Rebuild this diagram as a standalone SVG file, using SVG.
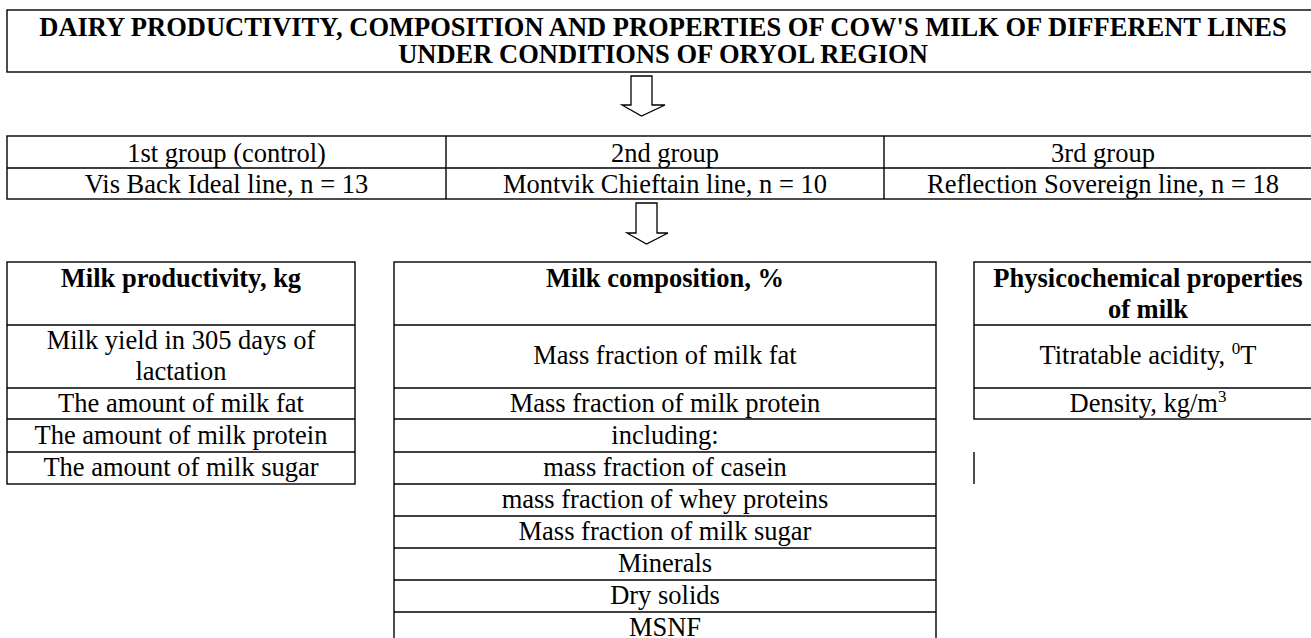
<svg xmlns="http://www.w3.org/2000/svg" width="1311" height="638" viewBox="0 0 1311 638">
<style>
.b{fill:none;stroke:#000;stroke-width:1.4}
.t{font-family:'Liberation Serif','Tinos','Nimbus Roman','DejaVu Serif',serif;font-size:26.5px;fill:#000;text-anchor:middle}
.h{font-weight:bold}
.a{fill:#fff;stroke:#000;stroke-width:1.3;stroke-linejoin:miter}
</style>
<rect width="1311" height="638" fill="#fff"/>
<g id="title">
<rect class="b" x="7" y="10" width="1315" height="62"/>
<text class="t h" x="663" y="36">DAIRY PRODUCTIVITY, COMPOSITION AND PROPERTIES OF COW'S MILK OF DIFFERENT LINES</text>
<text class="t h" x="663" y="63">UNDER CONDITIONS OF ORYOL REGION</text>
</g>
<g id="groups">
<rect class="b" x="7" y="136" width="1315" height="63"/>
<line class="b" x1="7" y1="168" x2="1322" y2="168"/>
<line class="b" x1="446" y1="136" x2="446" y2="199"/>
<line class="b" x1="884" y1="136" x2="884" y2="199"/>
<text class="t" x="226.5" y="162">1st group (control)</text>
<text class="t" x="226.5" y="193">Vis Back Ideal line, n = 13</text>
<text class="t" x="665" y="162">2nd group</text>
<text class="t" x="665" y="193">Montvik Chieftain line, n = 10</text>
<text class="t" x="1103" y="162">3rd group</text>
<text class="t" x="1103" y="193">Reflection Sovereign line, n = 18</text>
</g>
<g id="productivity">
<rect class="b" x="7" y="262" width="348" height="222"/>
<line class="b" x1="7" y1="325" x2="355" y2="325"/>
<line class="b" x1="7" y1="388" x2="355" y2="388"/>
<line class="b" x1="7" y1="419" x2="355" y2="419"/>
<line class="b" x1="7" y1="452" x2="355" y2="452"/>
<text class="t h" x="181" y="287">Milk productivity, kg</text>
<text class="t" x="181" y="349">Milk yield in 305 days of</text>
<text class="t" x="181" y="380">lactation</text>
<text class="t" x="181" y="412">The amount of milk fat</text>
<text class="t" x="181" y="444">The amount of milk protein</text>
<text class="t" x="181" y="476">The amount of milk sugar</text>
</g>
<g id="composition">
<rect class="b" x="394" y="262" width="542" height="390"/>
<line class="b" x1="394" y1="325" x2="936" y2="325"/>
<line class="b" x1="394" y1="388" x2="936" y2="388"/>
<line class="b" x1="394" y1="419" x2="936" y2="419"/>
<line class="b" x1="394" y1="452" x2="936" y2="452"/>
<line class="b" x1="394" y1="484" x2="936" y2="484"/>
<line class="b" x1="394" y1="516" x2="936" y2="516"/>
<line class="b" x1="394" y1="548" x2="936" y2="548"/>
<line class="b" x1="394" y1="580" x2="936" y2="580"/>
<line class="b" x1="394" y1="612" x2="936" y2="612"/>
<text class="t h" x="665" y="287">Milk composition, %</text>
<text class="t" x="665" y="364">Mass fraction of milk fat</text>
<text class="t" x="665" y="412">Mass fraction of milk protein</text>
<text class="t" x="665" y="444">including:</text>
<text class="t" x="665" y="476">mass fraction of casein</text>
<text class="t" x="665" y="508">mass fraction of whey proteins</text>
<text class="t" x="665" y="540">Mass fraction of milk sugar</text>
<text class="t" x="665" y="572">Minerals</text>
<text class="t" x="665" y="604">Dry solids</text>
<text class="t" x="665" y="636">MSNF</text>
</g>
<g id="properties">
<rect class="b" x="974" y="262" width="348" height="157"/>
<line class="b" x1="974" y1="325" x2="1322" y2="325"/>
<line class="b" x1="974" y1="388" x2="1322" y2="388"/>
<line class="b" x1="974" y1="452" x2="974" y2="484"/>
<text class="t h" x="1148" y="287">Physicochemical properties</text>
<text class="t h" x="1148" y="318">of milk</text>
<text class="t" x="1148" y="364">Titratable acidity, <tspan dy="-10" font-size="17">0</tspan><tspan dy="10">T</tspan></text>
<text class="t" x="1148" y="412">Density, kg/m<tspan dy="-10" font-size="17">3</tspan></text>
</g>
<g id="connectors">
<path class="a" d="M631,76 H652 V105 H665 L641.5,116 L622,105 H631 Z"/>
<path class="a" d="M636,203 H657 V233 H668 L646.5,244 L627,233 H636 Z"/>
</g>
</svg>
